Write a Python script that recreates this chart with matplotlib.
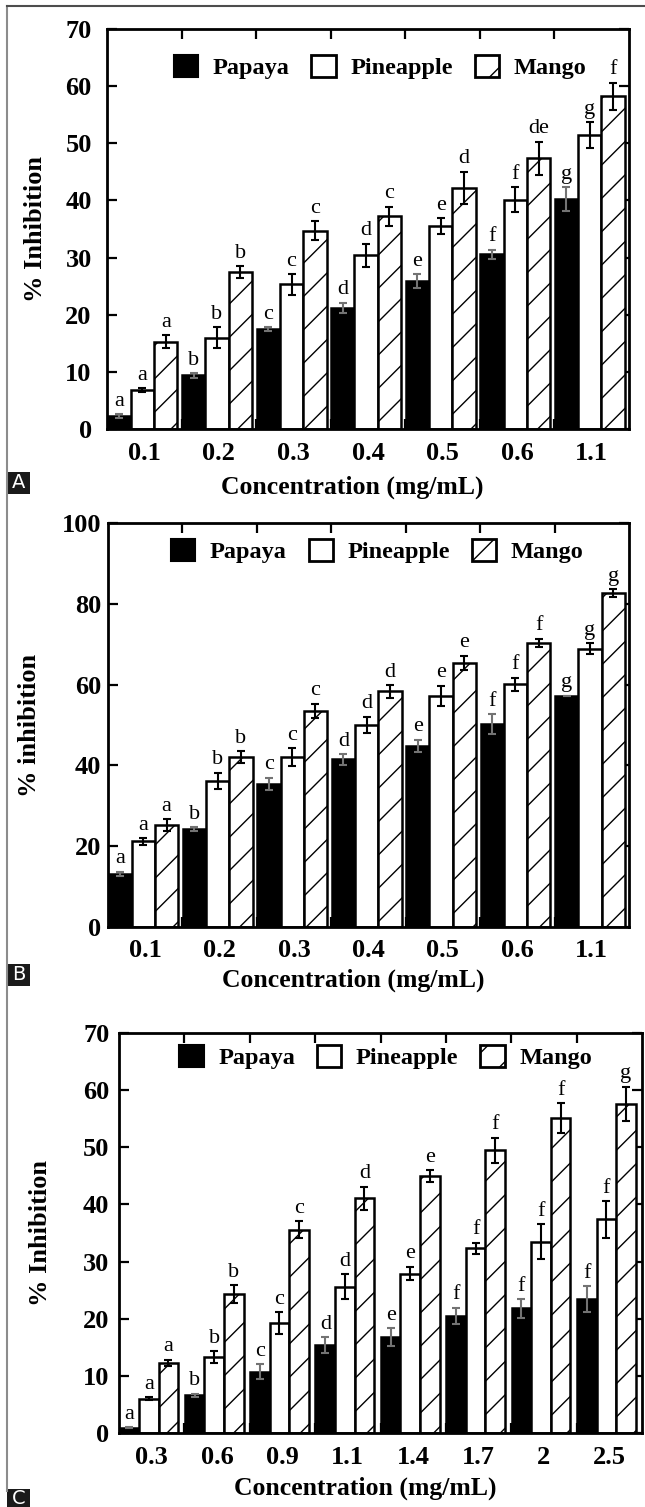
import matplotlib
matplotlib.use("Agg")
import matplotlib.pyplot as plt
from matplotlib.patches import Patch, Rectangle
from matplotlib.lines import Line2D
import numpy as np

plt.rcParams['font.family'] = ['Liberation Serif', 'DejaVu Serif']
plt.rcParams['hatch.linewidth'] = 1.0

series_names = ["Papaya", "Pineapple", "Mango"]

# ---------------- Panel A ----------------
conc_A = ["0.1", "0.2", "0.3", "0.4", "0.5", "0.6", "1.1"]
papaya_A = [2.3, 9.4, 17.5, 21.2, 25.9, 30.6, 40.2]
pineapple_A = [6.8, 16.0, 25.3, 30.4, 35.5, 40.1, 51.4]
mango_A = [15.3, 27.5, 34.7, 37.2, 42.2, 47.4, 58.2]
papaya_A_err = [0.3, 0.4, 0.3, 0.9, 1.2, 0.8, 2.1]
pineapple_A_err = [0.3, 1.8, 1.8, 2.0, 1.4, 2.2, 2.3]
mango_A_err = [1.1, 1.0, 1.7, 1.7, 2.8, 2.9, 2.4]
papaya_A_let = ["a", "b", "c", "d", "e", "f", "g"]
pineapple_A_let = ["a", "b", "c", "d", "e", "f", "g"]
mango_A_let = ["a", "b", "c", "c", "d", "de", "f"]

# ---------------- Panel B ----------------
conc_B = ["0.1", "0.2", "0.3", "0.4", "0.5", "0.6", "1.1"]
papaya_B = [13.1, 24.2, 35.5, 41.5, 44.8, 50.2, 57.2]
pineapple_B = [21.2, 36.2, 42.1, 50.0, 57.2, 60.1, 68.9]
mango_B = [25.2, 42.1, 53.5, 58.3, 65.4, 70.3, 82.6]
papaya_B_err = [0.6, 0.5, 1.5, 1.3, 1.5, 2.5, 0.0]
pineapple_B_err = [0.8, 2.0, 2.2, 2.0, 2.5, 1.6, 1.4]
mango_B_err = [1.5, 1.4, 1.8, 1.5, 1.8, 1.0, 1.0]
papaya_B_let = ["a", "b", "c", "d", "e", "f", "g"]
pineapple_B_let = ["a", "b", "c", "d", "e", "f", "g"]
mango_B_let = ["a", "b", "c", "d", "e", "f", "g"]

# ---------------- Panel C ----------------
conc_C = ["0.3", "0.6", "0.9", "1.1", "1.4", "1.7", "2", "2.5"]
papaya_C = [0.9, 6.6, 10.7, 15.4, 16.8, 20.5, 21.8, 23.4]
pineapple_C = [6.0, 13.3, 19.2, 25.6, 27.9, 32.3, 33.5, 37.4]
mango_C = [12.3, 24.3, 35.6, 41.1, 45.0, 49.5, 55.1, 57.6]
papaya_C_err = [0.1, 0.3, 1.3, 1.4, 1.5, 1.4, 1.6, 2.3]
pineapple_C_err = [0.3, 1.0, 1.9, 2.2, 1.2, 1.0, 3.0, 3.2]
mango_C_err = [0.5, 1.6, 1.5, 2.0, 1.0, 2.2, 2.6, 3.0]
papaya_C_let = ["a", "b", "c", "d", "e", "f", "f", "f"]
pineapple_C_let = ["a", "b", "c", "d", "e", "f", "f", "f"]
mango_C_let = ["a", "b", "c", "d", "e", "f", "f", "g"]

W, H = 645, 1507
fig = plt.figure(figsize=(W / 100, H / 100), dpi=100)


def px_axes(left, right, top, bottom):
    return fig.add_axes([left / W, 1 - bottom / H, (right - left) / W, (bottom - top) / H])


def draw_panel(ax, cats, vals, errs, lets, ymax, ylabel, width, ylabpad_x, ytickpad,
               xlab_y, legend_xy):
    n = len(cats)
    idx = np.arange(n)
    styles = [dict(color="black", edgecolor="black"),
              dict(color="white", edgecolor="black"),
              dict(color="white", edgecolor="black", hatch="/")]
    ecolors = ["0.45", "black", "black"]
    start = 0.005
    for k in range(3):
        xs = idx + start + width / 2 + k * width
        ax.bar(xs, vals[k], width=width, linewidth=1.8, zorder=2, **styles[k])
        ax.errorbar(xs, vals[k], yerr=errs[k], fmt="none", ecolor=ecolors[k],
                    elinewidth=1.5, capsize=3, capthick=1.5, zorder=3)
        for x, v, e, t in zip(xs, vals[k], errs[k], lets[k]):
            ax.annotate(t, xy=(x, v + e), xytext=(0, 2.5), textcoords="offset points",
                        ha="center", va="bottom", fontsize=16)
    ax.set_xlim(0, n)
    ax.set_ylim(0, ymax)
    ax.set_xticks(np.arange(1, n))
    ax.set_xticklabels([])
    ax.set_xticks(idx + 0.5, minor=True)
    ax.set_xticklabels(cats, minor=True, fontsize=19, fontweight="bold")
    ax.tick_params(axis="x", which="major", direction="in", length=7, width=1.6,
                   top=True, bottom=True)
    ax.tick_params(axis="x", which="minor", length=0, pad=9)
    step = 10 if ymax <= 70 else 20
    ax.set_yticks(np.arange(0, ymax + 1, step))
    ax.tick_params(axis="y", direction="in", length=7, width=1.6, left=True,
                   right=True, pad=ytickpad, labelsize=19)
    for lab in ax.get_yticklabels():
        lab.set_fontweight("bold")
    for sp in ax.spines.values():
        sp.set_linewidth(2.0)
    ax.set_ylabel(ylabel, fontsize=19, fontweight="bold")
    ax.yaxis.set_label_coords(ylabpad_x, 0.5)
    ax.text(0.47, xlab_y, "Concentration (mg/mL)", transform=ax.transAxes,
            ha="center", va="center", fontsize=18.5, fontweight="bold")
    handles = [Patch(facecolor="black", edgecolor="black", linewidth=1.5),
               Patch(facecolor="white", edgecolor="black", linewidth=2),
               Patch(facecolor="white", edgecolor="black", linewidth=2, hatch="/")]
    ax.legend(handles, series_names, loc="center", bbox_to_anchor=legend_xy,
              ncol=3, frameon=False, handlelength=1.0, handleheight=1.0,
              handletextpad=0.6, columnspacing=0.9,
              prop=dict(family="Liberation Serif", weight="bold", size=17.5))


axA = px_axes(107, 629, 29, 429)
draw_panel(axA, conc_A, [papaya_A, pineapple_A, mango_A],
           [papaya_A_err, pineapple_A_err, mango_A_err],
           [papaya_A_let, pineapple_A_let, mango_A_let],
           70, "% Inhibition", 0.313, -0.115, 11, -0.145, (0.523, 0.905))

axB = px_axes(108, 629, 523, 927)
draw_panel(axB, conc_B, [papaya_B, pineapple_B, mango_B],
           [papaya_B_err, pineapple_B_err, mango_B_err],
           [papaya_B_let, pineapple_B_let, mango_B_let],
           100, "% inhibition", 0.313, -0.129, 5, -0.132, (0.517, 0.931))

axC = px_axes(119, 642, 1033, 1433)
draw_panel(axC, conc_C, [papaya_C, pineapple_C, mango_C],
           [papaya_C_err, pineapple_C_err, mango_C_err],
           [papaya_C_let, pineapple_C_let, mango_C_let],
           70, "% Inhibition", 0.3, -0.128, 7, -0.138, (0.51, 0.94))

# frame lines (left and top)
fig.add_artist(Line2D([6.5 / W, 6.5 / W], [1 - 6 / H, 1 - 1491 / H],
                      transform=fig.transFigure, color="0.55", lw=1.5))
fig.add_artist(Line2D([6.5 / W, 1.0], [1 - 6 / H, 1 - 6 / H],
                      transform=fig.transFigure, color="0.3", lw=1.5))

# panel labels
for lab, (x0, y0, x1, y1) in [("A", (7, 472, 30, 494)), ("B", (7, 964, 30, 986)),
                              ("C", (7, 1489, 30, 1507))]:
    fig.add_artist(Rectangle((x0 / W, 1 - y1 / H), (x1 - x0) / W, (y1 - y0) / H,
                             transform=fig.transFigure, facecolor="#1a1a1a",
                             edgecolor="none"))
    fig.text((x0 + x1) / 2 / W, 1 - (y0 + y1) / 2 / H, lab, ha="center", va="center",
             color="white", fontsize=14, family="DejaVu Sans")

fig.savefig("out.png", dpi=100)
